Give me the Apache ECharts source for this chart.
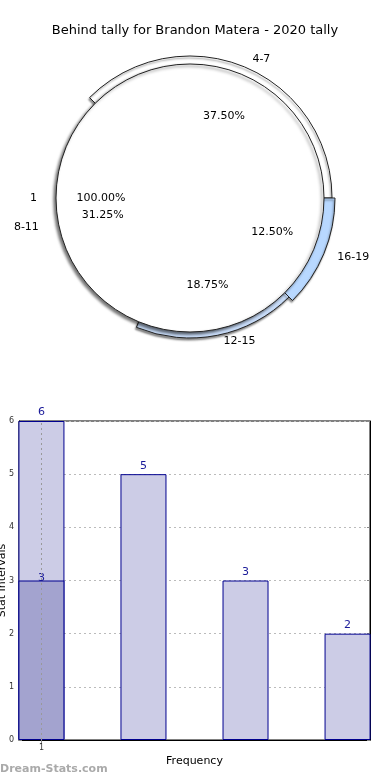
<!DOCTYPE html>
<html><head><meta charset="utf-8">
<script src="https://cdn.jsdelivr.net/npm/echarts@6/dist/echarts.min.js"></script>
<style>html,body{margin:0;padding:0;background:#fff}#c{width:390px;height:780px}</style>
</head><body><div id="c"></div>
<script>
const titleText = 'Behind tally for Brandon Matera - 2020 tally';
const ringNames = ['4-7', '16-19', '12-15', '8-11'];
const ringValues = [6, 2, 3, 5];
const ringColors = ['#ffffff', '#b8d8ff', '#c8dcf8', '#ffffff'];
const innerNames = ['1'];
const innerValues = [16];
const barX = [1, 2, 3, 4];
const barValues = [6, 5, 3, 2];
const darkX = [1];
const darkValues = [3];
const yTicks = [0, 1, 2, 3, 4, 5, 6];

const C = [190, 198];
const R_IN = 134;
// per-slice ring outer radius and label distance (style only)
const ringOuter = [142, 145, 140, 134];
const ringLabelLen = [8, 9, 6, 15];
const font = 'DejaVu Sans';

const chart = echarts.init(document.getElementById('c'), null, {renderer: 'canvas'});
const pct = p => p.percent.toFixed(2) + '%';

const ringSeries = ringNames.map((name, k) => ({
  type: 'pie', center: C, radius: [0, ringOuter[k]], startAngle: 135, clockwise: true,
  silent: true, avoidLabelOverlap: false,
  data: ringNames.map((n, i) => ({
    name: n, value: ringValues[i],
    itemStyle: (i !== k || k === 3) ? {color: 'rgba(0,0,0,0)', borderWidth: 0, shadowBlur: 0} :
      {color: ringColors[i], borderColor: '#222', borderWidth: 1, shadowColor: 'rgba(0,0,0,0.45)', shadowBlur: 2, shadowOffsetX: -1, shadowOffsetY: 2},
    label: {show: i === k},
  })),
  label: {position: 'outside', formatter: '{b}', fontSize: 11, color: '#000'},
  labelLine: {show: false, length: ringLabelLen[k], length2: 0}
}));

chart.setOption({
  animation: false,
  textStyle: {fontFamily: font},
  title: {text: titleText, left: 'center', top: 19, textStyle: {fontSize: 13, fontWeight: 'normal', color: '#000', fontFamily: font}},
  grid: {left: 19, right: 20, top: 421, bottom: 40, show: true, borderColor: '#000', borderWidth: 1, outerBoundsMode: 'none', containLabel: false},
  xAxis: {
    type: 'value', min: 0.78, max: 4.22,
    name: 'Frequency', nameLocation: 'middle', nameGap: 16, nameMoveOverlap: false,
    nameTextStyle: {fontSize: 11, color: '#000'},
    axisLine: {show: true, lineStyle: {color: '#000'}},
    axisTick: {show: true, customValues: [1], length: 3, lineStyle: {color: '#888'}},
    axisLabel: {customValues: [1], fontSize: 8, color: '#333', margin: 4},
    splitLine: {show: false}
  },
  yAxis: [{
    type: 'value', min: 0, max: 6, interval: 1,
    name: 'Stat Intervals', nameLocation: 'middle', nameGap: 11, nameMoveOverlap: false,
    nameTextStyle: {fontSize: 11, color: '#000'},
    axisLine: {show: true, lineStyle: {color: '#000'}},
    axisTick: {show: true, inside: true, length: 3, lineStyle: {color: '#888'}},
    axisLabel: {fontSize: 8, color: '#333', margin: 5, formatter: v => yTicks.includes(v) ? String(v) : ''},
    splitLine: {show: true, lineStyle: {color: '#bbb', type: [2, 3], width: 1}}
  }, {
    type: 'value', min: 0, max: 6, interval: 1, position: 'right',
    axisLine: {show: true, lineStyle: {color: '#000'}},
    axisTick: {show: true, inside: true, length: 3, lineStyle: {color: '#888'}},
    axisLabel: {show: false}, splitLine: {show: false}
  }],
  graphic: [{
    type: 'text', left: 0, top: 764,
    style: {text: 'Dream-Stats.com', fontSize: 11, fontWeight: 'bold', fill: '#aaa', fontFamily: font}
  }],
  series: [
    ...ringSeries,
    {
      type: 'pie', center: C, radius: [0, R_IN], startAngle: 0, clockwise: true,
      silent: true,
      data: innerNames.map((n, i) => ({name: n, value: innerValues[i]})),
      itemStyle: {color: '#fff', borderColor: '#222', borderWidth: 1, shadowColor: 'rgba(0,0,0,0.55)', shadowBlur: 3, shadowOffsetX: -2, shadowOffsetY: 2},
      label: {show: true, position: 'outside', formatter: '{b}', fontSize: 11, color: '#000'},
      labelLine: {show: false, length: 14, length2: 0}
    },
    {
      type: 'pie', center: C, radius: [0, 172], startAngle: 135, silent: true,
      data: ringNames.map((n, i) => ({name: n, value: ringValues[i]})),
      itemStyle: {color: 'rgba(0,0,0,0)', borderWidth: 0},
      label: {show: true, position: 'inside', formatter: pct, fontSize: 11, color: '#000'},
      labelLine: {show: false}
    },
    {
      type: 'pie', center: C, radius: [0, 172], startAngle: 0, silent: true,
      data: innerNames.map((n, i) => ({name: n, value: innerValues[i]})),
      itemStyle: {color: 'rgba(0,0,0,0)', borderWidth: 0},
      label: {show: true, position: 'inside', formatter: pct, fontSize: 11, color: '#000'},
      labelLine: {show: false}
    },
    {
      type: 'bar', barWidth: 46, barGap: '-100%',
      data: barX.map((x, i) => [x, barValues[i]]),
      itemStyle: {color: '#ccccE6', borderColor: '#00008f', borderWidth: 1},
      label: {show: true, position: 'top', distance: 3, fontSize: 11, color: '#1a1a99', formatter: p => p.value[1]},
      markLine: {silent: true, symbol: 'none', label: {show: false},
        lineStyle: {color: '#999', type: [2, 3], width: 1}, data: [{xAxis: 1}], z: 10}
    },
    {
      type: 'bar', barWidth: 46, barGap: '-100%',
      data: darkX.map((x, i) => [x, darkValues[i]]),
      itemStyle: {color: '#a3a3cf', borderColor: '#00008f', borderWidth: 1},
      label: {show: true, position: 'top', distance: -3, fontSize: 11, color: '#1a1a99', formatter: p => p.value[1]}
    }
  ]
});
</script></body></html>
